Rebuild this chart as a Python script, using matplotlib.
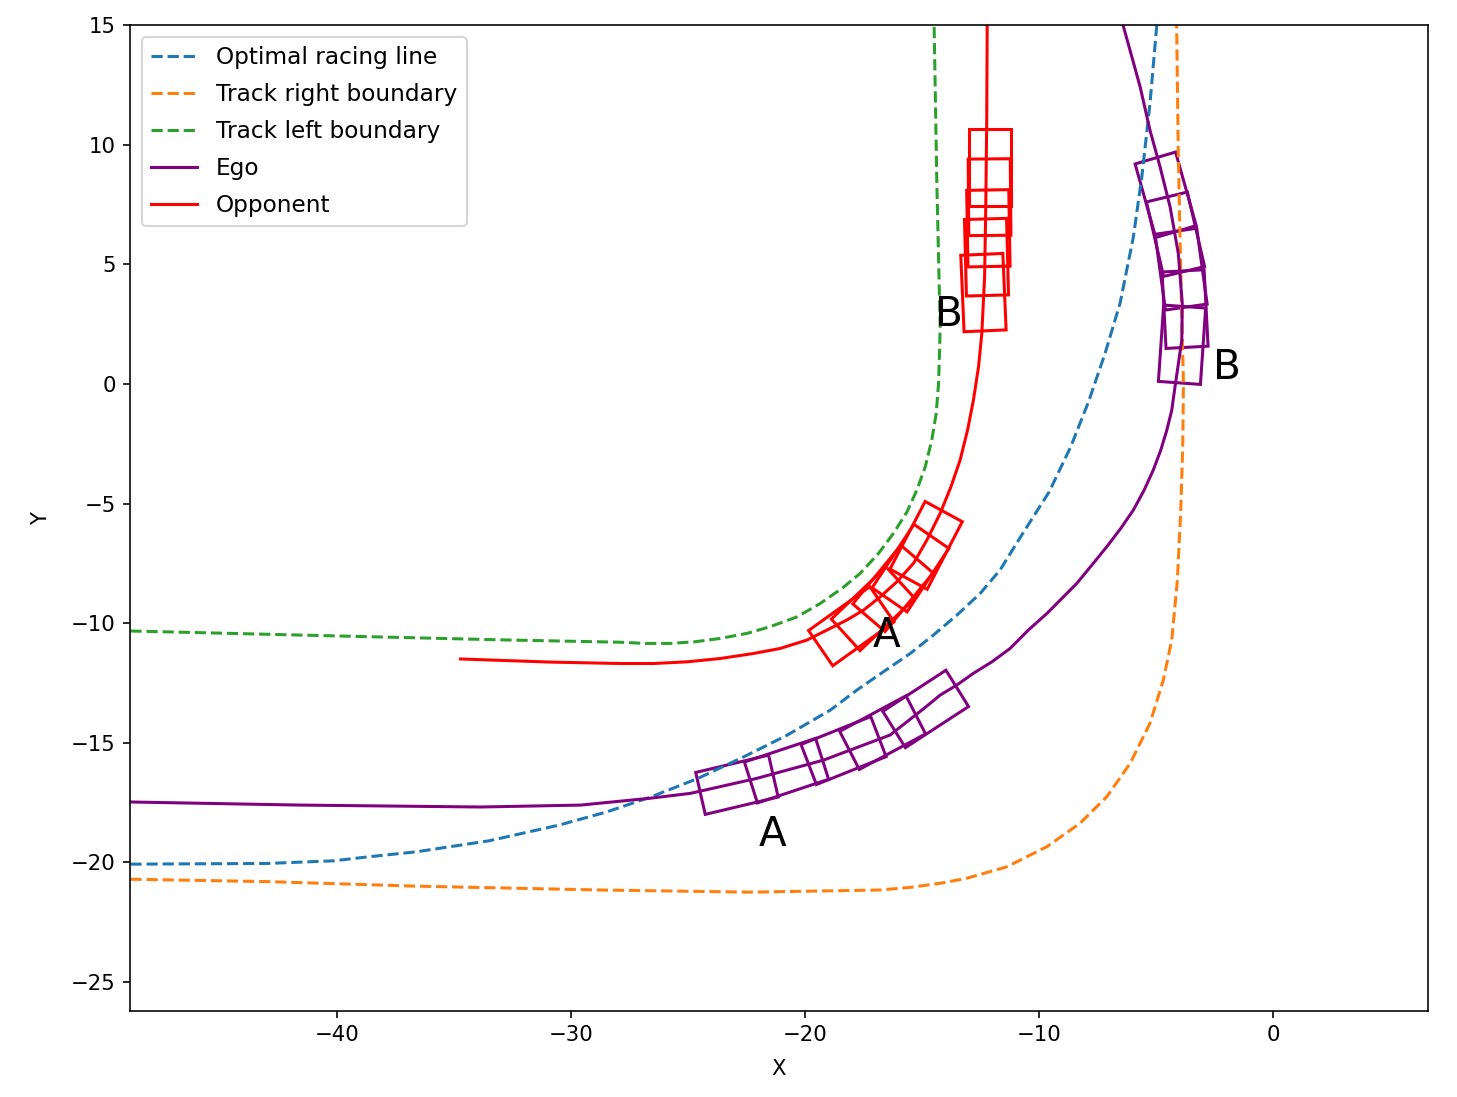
import numpy as np
import matplotlib
matplotlib.use("Agg")
import matplotlib.pyplot as plt
from matplotlib.patches import Rectangle

# track lines
opt_x = [-48.85, -43.0, -40.16, -38.74, -36.6, -33.5, -30.5, -28.5, -26.6, -24.6, -22.56,
         -20.8, -18.93, -17.79, -16.65, -15.51, -14.52, -13.52, -12.52, -11.67, -10.70,
         -9.57, -8.65, -7.89, -7.18, -6.54, -5.97, -5.61, -5.26, -4.97]
opt_y = [-20.08, -20.05, -19.94, -19.78, -19.56, -19.1, -18.44, -17.9, -17.27, -16.5, -15.56,
         -14.7, -13.64, -12.80, -12.03, -11.27, -10.50, -9.67, -8.76, -7.78, -6.25,
         -4.51, -2.63, -0.75, 1.28, 3.37, 6.15, 8.66, 11.73, 15.0]

right_x = [-48.85, -43.0, -36.6, -28.76, -22.35, -16.79, -15.5, -14.23, -13.09, -11.38,
           -9.67, -8.25, -7.11, -6.11, -5.26, -4.69, -4.33, -4.09, -3.95, -3.86, -3.83,
           -3.93, -4.05, -4.12]
right_y = [-20.71, -20.81, -21.0, -21.16, -21.25, -21.16, -21.05, -20.88, -20.67, -20.19,
           -19.35, -18.37, -17.26, -15.87, -14.19, -12.38, -10.71, -8.20, -5.41, -2.63, 0.02,
           4.06, 9.64, 15.0]

left_x = [-48.85, -41.6, -33.0, -27.91, -26.84, -25.77, -24.70, -23.63, -22.49, -21.50,
          -20.35, -19.36, -18.43, -17.65, -16.87, -16.23, -15.65, -15.23, -14.87, -14.59,
          -14.40, -14.30, -14.26, -14.23, -14.37, -14.49]
left_y = [-10.33, -10.5, -10.7, -10.8, -10.85, -10.85, -10.78, -10.64, -10.43, -10.15,
          -9.74, -9.18, -8.55, -7.92, -7.09, -6.25, -5.35, -4.44, -3.47, -2.35,
          -1.23, 0.02, 1.27, 2.39, 8.24, 15.0]

ego_x = [-48.85, -41.58, -33.89, -29.6, -26.6, -24.91, -22.06, -19.22, -16.37, -14.85,
         -14.23, -13.52, -12.81, -12.02, -11.24, -10.46, -9.67, -9.03, -8.39, -7.75,
         -7.11, -6.51, -5.97, -5.51, -5.12, -4.80, -4.54, -4.33, -4.19, -3.90, -3.88,
         -4.05, -4.40, -4.83, -5.26, -5.68, -6.41]
ego_y = [-17.48, -17.61, -17.69, -17.61, -17.32, -17.12, -16.49, -15.73, -14.68, -13.51,
         -13.01, -12.59, -12.10, -11.62, -11.06, -10.29, -9.60, -8.97, -8.34, -7.58,
         -6.81, -6.04, -5.27, -4.44, -3.60, -2.77, -1.93, -1.10, -0.12, 1.83, 3.37,
         5.46, 7.40, 9.08, 10.61, 12.42, 15.0]

opp_x = [-34.74, -30.9, -27.91, -26.48, -25.06, -23.63, -22.21, -21.07, -19.93, -19.07,
         -18.22, -17.51, -16.79, -16.08, -15.37, -14.80, -14.23, -13.77, -13.38, -13.06,
         -12.81, -12.59, -12.45, -12.33, -12.28, -12.24, -12.22]
opp_y = [-11.50, -11.63, -11.69, -11.69, -11.62, -11.48, -11.27, -11.06, -10.71, -10.29,
         -9.87, -9.46, -8.90, -8.27, -7.50, -6.53, -5.41, -4.30, -3.19, -1.93,
         -0.68, 0.72, 2.11, 4.5, 7.5, 11.0, 15.0]

# car footprints: centre x, centre y, heading (deg)
ego_car_x = [-22.92, -20.80, -18.36, -16.69, -14.85, -4.59, -4.17, -3.93, -3.76, -3.89]
ego_car_y = [-16.76, -16.17, -15.33, -14.58, -13.59, 7.91, 6.26, 4.80, 3.13, 1.64]
ego_car_h = [13.1, 18.0, 21.4, 27.7, 32.5, 106.0, 103.3, 98.0, 93.0, 86.0]

opp_car_x = [-18.03, -17.10, -16.25, -15.50, -14.83, -12.10, -12.12, -12.17, -12.25, -12.38]
opp_car_y = [-10.13, -9.40, -8.55, -7.70, -6.75, 9.06, 7.81, 6.51, 5.30, 3.82]
opp_car_h = [35.0, 43.0, 50.0, 56.0, 62.0, 90.0, 90.5, 91.0, 91.5, 92.5]

car_len = 3.2
car_wid = 1.8

plt.rcParams['font.size'] = 10.5

fig = plt.figure(figsize=(10, 1097 / 145.7), dpi=145.7)
ax = fig.add_axes([0.0892, 0.0784, 0.8908, 0.8986])

ax.plot(opt_x, opt_y, '--', color='C0', label='Optimal racing line')
ax.plot(right_x, right_y, '--', color='C1', label='Track right boundary')
ax.plot(left_x, left_y, '--', color='C2', label='Track left boundary')
ax.plot(ego_x, ego_y, color='purple', label='Ego')
ax.plot(opp_x, opp_y, color='red', label='Opponent')

for cx, cy, h in zip(ego_car_x, ego_car_y, ego_car_h):
    ax.add_patch(Rectangle((cx - car_len / 2, cy - car_wid / 2), car_len, car_wid,
                           angle=h, rotation_point='center', fill=False,
                           edgecolor='purple', linewidth=1.5))
for cx, cy, h in zip(opp_car_x, opp_car_y, opp_car_h):
    ax.add_patch(Rectangle((cx - car_len / 2, cy - car_wid / 2), car_len, car_wid,
                           angle=h, rotation_point='center', fill=False,
                           edgecolor='red', linewidth=1.5))

ax.text(-21.97, -19.3, 'A', fontsize=20)
ax.text(-17.1, -11.0, 'A', fontsize=20)
ax.text(-14.44, 2.42, 'B', fontsize=20)
ax.text(-2.56, 0.21, 'B', fontsize=20)

ax.set_xlim(-48.87, 6.62)
ax.set_ylim(-26.22, 15)
ax.set_xlabel('X', labelpad=7)
ax.set_ylabel('Y', labelpad=10)
ax.legend(loc='upper left', fontsize=11.5, labelspacing=0.6)

plt.savefig('out.png', dpi=145.7)
